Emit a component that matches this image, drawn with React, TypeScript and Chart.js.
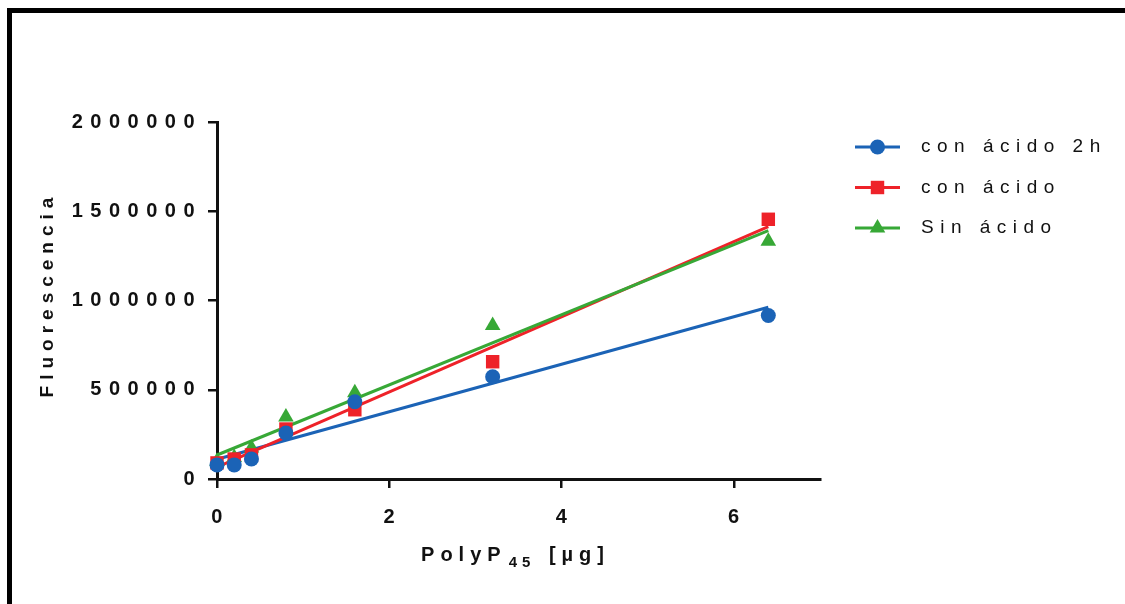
import React, { useEffect, useRef } from 'react';
import { Chart, registerables } from 'chart.js';
import { drawPoint } from 'chart.js/helpers';

Chart.register(...registerables);

// ---- data ----
const xValues = [0, 0.2, 0.4, 0.8, 1.6, 3.2, 6.4];
const seriesNames = ['con ácido 2h', 'con ácido', 'Sin ácido'];
const conAcido2h = [79000, 79000, 112000, 258000, 433000, 573000, 916000];
const conAcido = [90000, 112000, 135000, 280000, 388000, 657000, 1455000];
const sinAcido = [100000, 120000, 174000, 348000, 483000, 860000, 1332000];
const yTickValues = [0, 500000, 1000000, 1500000, 2000000];
const xTickValues = [0, 2, 4, 6];
const yTitle = 'Fluorescencia';
const xTitleMain = 'PolyP';
const xTitleSub = '45';
const xTitleUnit = ' [µg]';

const seriesValues = [conAcido2h, conAcido, sinAcido];
const colors = ['#1b63b6', '#ee2229', '#37a836'];
const pointStyles = ['circle', 'rect', 'triangle'];
const pointRadii = [7.5, 9.5, 9];

const FONT = '"Liberation Sans", Arial, Helvetica, sans-serif';

function linearFit(xs: number[], ys: number[]) {
  const n = xs.length;
  const mx = xs.reduce((a, b) => a + b, 0) / n;
  const my = ys.reduce((a, b) => a + b, 0) / n;
  let sxy = 0;
  let sxx = 0;
  for (let i = 0; i < n; i++) {
    sxy += (xs[i] - mx) * (ys[i] - my);
    sxx += (xs[i] - mx) * (xs[i] - mx);
  }
  const m = sxy / sxx;
  return { m, b: my - m * mx };
}

const customText = {
  id: 'customText',
  beforeDraw(chart: any) {
    chart.ctx.letterSpacing = '7.5px';
  },
  beforeDatasetsDraw(chart: any) {
    chart.ctx.letterSpacing = '0px';
  },
  afterDraw(chart: any) {
    const ctx = chart.ctx;
    const area = chart.chartArea;
    ctx.save();
    // legend
    const lx0 = area.right + 35;
    const lx1 = lx0 + 45;
    const tx = lx1 + 21;
    seriesNames.forEach((name, i) => {
      const y = area.top + 25 + i * 40.5;
      ctx.letterSpacing = '0px';
      ctx.strokeStyle = colors[i];
      ctx.lineWidth = 3;
      ctx.beginPath();
      ctx.moveTo(lx0, y);
      ctx.lineTo(lx1, y);
      ctx.stroke();
      ctx.fillStyle = colors[i];
      drawPoint(ctx, { pointStyle: pointStyles[i], radius: pointRadii[i], rotation: 0, borderWidth: 0 } as any, (lx0 + lx1) / 2, y);
      ctx.fillStyle = '#111';
      ctx.font = `19px ${FONT}`;
      ctx.letterSpacing = '6.5px';
      ctx.textAlign = 'left';
      ctx.textBaseline = 'middle';
      ctx.fillText(name, tx, y);
    });
    // y axis title (rotated)
    ctx.save();
    ctx.translate(48, (area.top + area.bottom) / 2 - 3);
    ctx.rotate(-Math.PI / 2);
    ctx.font = `bold 19px ${FONT}`;
    ctx.letterSpacing = '6px';
    ctx.textAlign = 'center';
    ctx.textBaseline = 'middle';
    ctx.fillStyle = '#111';
    ctx.fillText(yTitle, 3, 0);
    ctx.restore();
    // x axis title with subscript
    const cx = (area.left + area.right) / 2 - 3;
    const baseY = 561;
    ctx.textBaseline = 'alphabetic';
    ctx.textAlign = 'left';
    ctx.fillStyle = '#111';
    ctx.font = `bold 20px ${FONT}`;
    ctx.letterSpacing = '6px';
    const w1 = ctx.measureText(xTitleMain).width;
    const w3 = ctx.measureText(xTitleUnit).width;
    ctx.font = `bold 15px ${FONT}`;
    ctx.letterSpacing = '5px';
    const w2 = ctx.measureText(xTitleSub).width;
    let x = cx - (w1 + w2 + w3 + 4) / 2;
    ctx.font = `bold 20px ${FONT}`;
    ctx.letterSpacing = '6px';
    ctx.fillText(xTitleMain, x, baseY);
    x += w1 + 2;
    ctx.font = `bold 15px ${FONT}`;
    ctx.letterSpacing = '5px';
    ctx.fillText(xTitleSub, x, baseY + 6);
    x += w2 + 2;
    ctx.font = `bold 20px ${FONT}`;
    ctx.letterSpacing = '6px';
    ctx.fillText(xTitleUnit, x, baseY);
    ctx.restore();
    ctx.letterSpacing = '0px';
  },
};

export default function App() {
  const canvasRef = useRef<HTMLCanvasElement | null>(null);

  useEffect(() => {
    if (!canvasRef.current) return;
    const pointSets = seriesValues.map((vals, i) => ({
      type: 'scatter' as const,
      label: seriesNames[i],
      data: xValues.map((x, j) => ({ x, y: vals[j] })),
      backgroundColor: colors[i],
      borderColor: colors[i],
      borderWidth: 0,
      pointStyle: pointStyles[i],
      pointRadius: pointRadii[i],
      showLine: false,
      clip: false,
      order: i,
    }));
    const fitSets = seriesValues.map((vals, i) => {
      const f = linearFit(xValues, vals);
      const x0 = xValues[0];
      const x1 = xValues[xValues.length - 1];
      return {
        type: 'line' as const,
        label: seriesNames[i] + ' fit',
        data: [
          { x: x0, y: f.b + f.m * x0 },
          { x: x1, y: f.b + f.m * x1 },
        ],
        borderColor: colors[i],
        backgroundColor: colors[i],
        borderWidth: 3,
        pointRadius: 0,
        fill: false,
        clip: false,
        order: 3 + (2 - i),
      };
    });

    const chart = new Chart(canvasRef.current, {
      type: 'scatter',
      data: { datasets: [...pointSets, ...fitSets] as any },
      options: {
        animation: false,
        responsive: false,
        layout: { padding: { left: 0, top: 122, right: 305, bottom: 0 } },
        plugins: {
          legend: { display: false },
          tooltip: { enabled: false },
        },
        scales: {
          x: {
            type: 'linear',
            min: 0,
            max: 7,
            afterBuildTicks: (s: any) => {
              s.ticks = xTickValues.map((v) => ({ value: v }));
            },
            afterFit: (s: any) => {
              s.height = 125;
            },
            grid: {
              display: true,
              drawOnChartArea: false,
              drawTicks: true,
              tickLength: 9,
              color: '#111',
              lineWidth: 2.5,
            },
            border: { display: true, color: '#111', width: 3 },
            ticks: {
              color: '#111',
              padding: 17,
              labelOffset: 3.5,
              font: { family: FONT, size: 20, weight: 'bold' },
              callback: (v: any) => String(v),
            },
            title: { display: false },
          },
          y: {
            type: 'linear',
            min: 0,
            max: 2000000,
            afterBuildTicks: (s: any) => {
              s.ticks = yTickValues.map((v) => ({ value: v }));
            },
            afterFit: (s: any) => {
              s.width = 217;
            },
            grid: {
              display: true,
              drawOnChartArea: false,
              drawTicks: true,
              tickLength: 9,
              color: '#111',
              lineWidth: 2.5,
            },
            border: { display: true, color: '#111', width: 3 },
            ticks: {
              color: '#111',
              padding: 6,
              font: { family: FONT, size: 20, weight: 'bold' },
              callback: (v: any) => String(v),
            },
            title: { display: false },
          },
        },
      },
      plugins: [customText],
    });
    return () => chart.destroy();
  }, []);

  return (
    <div style={{ position: 'absolute', left: 0, top: 0, width: 1125, height: 604, background: '#fff', overflow: 'hidden' }}>
      <canvas ref={canvasRef} width={1125} height={604} style={{ position: 'absolute', left: 0, top: 0 }} />
      <div
        style={{
          position: 'absolute',
          left: 7,
          top: 8,
          width: 1118,
          height: 596,
          boxSizing: 'border-box',
          borderTop: '5px solid #000',
          borderLeft: '5px solid #000',
          pointerEvents: 'none',
        }}
      />
    </div>
  );
}
